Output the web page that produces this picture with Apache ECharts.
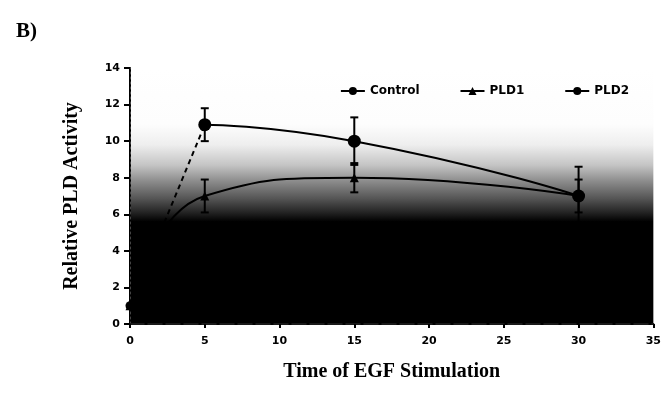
<!DOCTYPE html>
<html>
<head>
<meta charset="utf-8">
<script src="https://cdn.jsdelivr.net/npm/echarts@6/dist/echarts.min.js"></script>
<style>
html,body{margin:0;padding:0;background:#fff;}
#chart{width:664px;height:395px;}
</style>
</head>
<body>
<div id="chart"></div>
<script>
// Data
var times = [0, 5, 15, 30];
var controlVals = [1.0, 1.3, 1.2, 1.1];
var pld1Vals = [1.0, 7.0, 8.0, 7.0];
var pld2Vals = [1.0, 10.9, 10.0, 7.0];
var pld1Err = [0, 0.9, 0.8, 0.9];
var pld2Err = [0, 0.9, 1.3, 1.6];
var xTicks = [0, 5, 10, 15, 20, 25, 30, 35];
var yTicks = [0, 2, 4, 6, 8, 10, 12, 14];

function pairs(vals, from, to) {
  var out = [];
  for (var i = from; i <= to; i++) out.push([times[i], vals[i]]);
  return out;
}
function errData(vals, errs) {
  var out = [];
  for (var i = 0; i < times.length; i++) {
    if (errs[i] > 0) out.push([times[i], vals[i] - errs[i], vals[i] + errs[i]]);
  }
  return out;
}
function errRender(params, api) {
  var x = api.value(0);
  var lo = api.coord([x, api.value(1)]);
  var hi = api.coord([x, api.value(2)]);
  var w = 4;
  var st = {stroke: '#000', lineWidth: 2};
  return {
    type: 'group',
    children: [
      {type: 'line', shape: {x1: lo[0], y1: lo[1], x2: hi[0], y2: hi[1]}, style: st},
      {type: 'line', shape: {x1: hi[0] - w, y1: hi[1], x2: hi[0] + w, y2: hi[1]}, style: st},
      {type: 'line', shape: {x1: lo[0] - w, y1: lo[1], x2: lo[0] + w, y2: lo[1]}, style: st}
    ]
  };
}

var chart = echarts.init(document.getElementById('chart'));
var tickFont = {fontFamily: 'DejaVu Sans', fontWeight: 'bold', fontSize: 11, color: '#000'};
var option = {
  animation: false,
  backgroundColor: '#fff',
  title: {
    text: 'B)', left: 11, top: 16,
    textStyle: {fontFamily: 'Liberation Serif', fontWeight: 'bold', fontSize: 21, color: '#000'}
  },
  legend: {
    top: 80, right: 30, itemGap: 40, itemWidth: 24, itemHeight: 10,
    textStyle: {fontFamily: 'DejaVu Sans', fontWeight: 'bold', fontSize: 12, color: '#000'},
    data: ['Control', 'PLD1', 'PLD2']
  },
  grid: {
    left: 130, right: 9, top: 68, bottom: 71, show: true, borderWidth: 0,
    backgroundColor: new echarts.graphic.LinearGradient(0, 0, 0, 1, [
      {offset: 0, color: '#ffffff'},
      {offset: 0.22, color: '#fdfdfd'},
      {offset: 0.3, color: '#eeeeee'},
      {offset: 0.38, color: '#c4c4c4'},
      {offset: 0.44, color: '#8e8e8e'},
      {offset: 0.51, color: '#555555'},
      {offset: 0.57, color: '#1e1e1e'},
      {offset: 0.6, color: '#000000'},
      {offset: 1, color: '#000000'}
    ])
  },
  xAxis: [{
    type: 'value', min: 0, max: 35, interval: 5,
    name: 'Time of EGF Stimulation', nameLocation: 'middle', nameGap: 38,
    nameTextStyle: {fontFamily: 'Liberation Serif', fontWeight: 'bold', fontSize: 20, color: '#000'},
    axisLine: {lineStyle: {color: '#000', width: 2}},
    axisTick: {show: true, length: 4, lineStyle: {color: '#000', width: 2}},
    axisLabel: Object.assign({margin: 12, formatter: function (v) { return xTicks.indexOf(v) >= 0 ? String(v) : ''; }}, tickFont),
    splitLine: {show: false}
  }, {
    type: 'value', min: 0, max: 35, position: 'top',
    axisLine: {lineStyle: {color: '#222', width: 1.5, type: [14, 4]}},
    axisTick: {show: false}, axisLabel: {show: false}, splitLine: {show: false}
  }],
  yAxis: [{
    type: 'value', min: 0, max: 14, interval: 2,
    name: 'Relative PLD Activity', nameLocation: 'middle', nameGap: 48,
    nameTextStyle: {fontFamily: 'Liberation Serif', fontWeight: 'bold', fontSize: 20, color: '#000'},
    axisLine: {show: true, lineStyle: {color: '#000', width: 2}},
    axisTick: {show: true, length: 6, lineStyle: {color: '#000', width: 2}},
    axisLabel: Object.assign({margin: 10, formatter: function (v) { return yTicks.indexOf(v) >= 0 ? String(v) : ''; }}, tickFont),
    splitLine: {show: false}
  }, {
    type: 'value', min: 0, max: 14, position: 'right',
    axisLine: {show: true, lineStyle: {color: '#444', width: 1, type: [2, 3]}},
    axisTick: {show: false}, axisLabel: {show: false}, splitLine: {show: false}
  }],
  series: [
    {
      name: 'Control', type: 'line', smooth: true, data: pairs(controlVals, 0, 3),
      symbol: 'circle', symbolSize: 9, color: '#000',
      lineStyle: {color: '#000', width: 2}, itemStyle: {color: '#000'}
    },
    {
      name: 'PLD1', type: 'line', smooth: true, data: pairs(pld1Vals, 0, 3),
      symbol: 'triangle', symbolSize: 9, color: '#000',
      lineStyle: {color: '#000', width: 2}, itemStyle: {color: '#000'}
    },
    {
      name: 'PLD2', type: 'line', smooth: 0.6, data: pairs(pld2Vals, 1, 3),
      symbol: 'circle', symbolSize: 13, color: '#000',
      lineStyle: {color: '#000', width: 2}, itemStyle: {color: '#000'}
    },
    {
      name: 'PLD2 rise', type: 'line', smooth: true, data: pairs(pld2Vals, 0, 1),
      symbol: 'none', color: '#000',
      lineStyle: {color: '#000', width: 2, type: [5, 4]}
    },
    {
      type: 'custom', renderItem: errRender, data: errData(pld2Vals, pld2Err), clip: false, z: 3
    },
    {
      type: 'custom', renderItem: errRender, data: errData(pld1Vals, pld1Err), clip: false, z: 3
    }
  ]
};
chart.setOption(option);
</script>
</body>
</html>
